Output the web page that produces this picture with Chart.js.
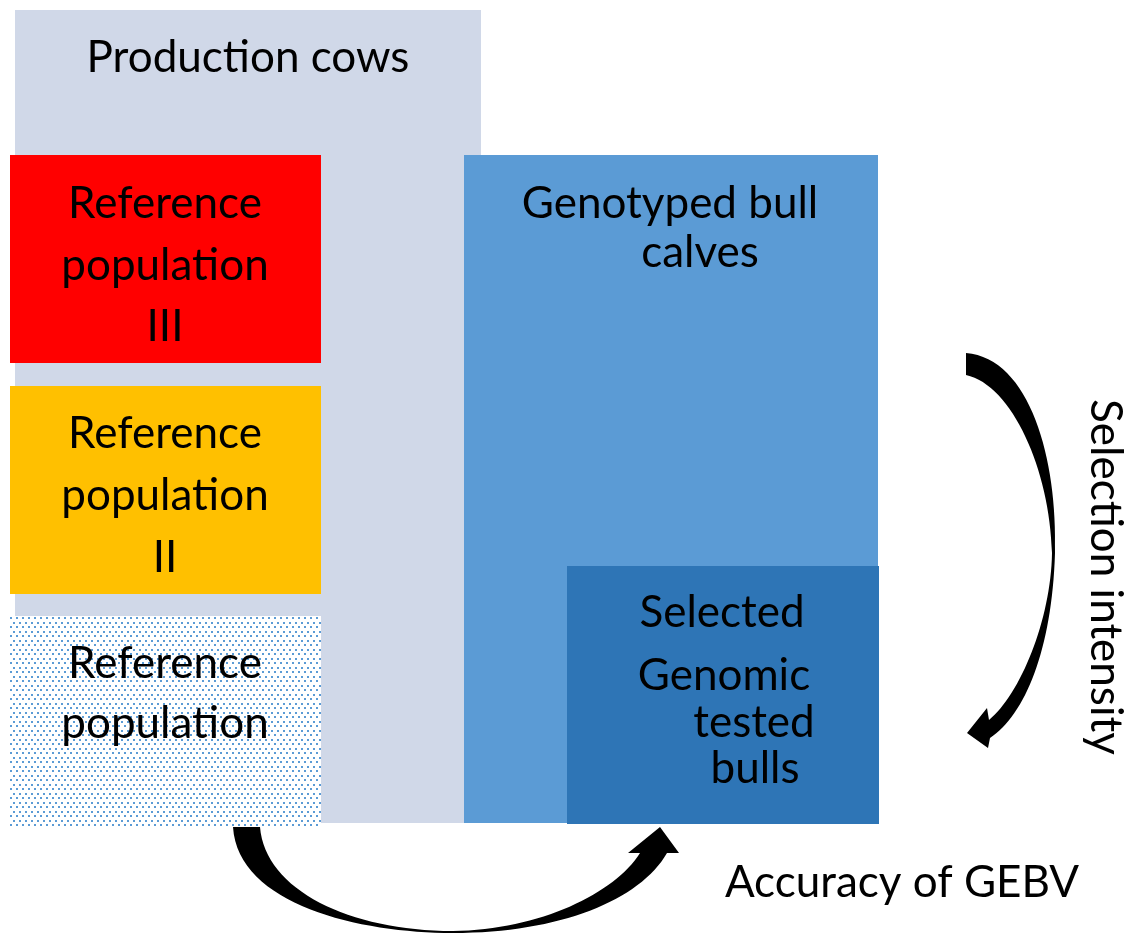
<!DOCTYPE html>
<html>
<head>
<meta charset="utf-8">
<script src="https://cdn.jsdelivr.net/npm/chart.js@4.4.1/dist/chart.umd.min.js"></script>
<style>
html, body { margin: 0; padding: 0; background: #ffffff; }
#wrap { width: 1126px; height: 934px; position: relative; }
</style>
</head>
<body>
<div id="wrap"><canvas id="diagram"></canvas></div>
<script>

// boxes of the diagram, in canvas units (x right, y down)
const boxNames = ['Production cows', 'Reference population III', 'Reference population II', 'Reference population', 'Genotyped bull calves', 'Selected Genomic tested bulls'];
const boxLeft = [15, 10, 10, 10, 464, 567];
const boxRight = [481, 321, 321, 321, 878, 879];
const boxTop = [10, 155, 386, 616, 155, 566];
const boxBottom = [823, 363, 594, 826, 823, 824];

// text lines
const textLines = ['Production cows', 'Reference', 'population', 'III', 'Reference', 'population', 'II', 'Reference', 'population', 'Genotyped bull', 'calves', 'Selected', 'Genomic', 'tested', 'bulls', 'Accuracy of GEBV'];
const textX = [248, 165, 165, 165, 165, 165, 165, 165, 165, 670, 700, 722, 724, 754, 755, 902];
const textY = [72, 218, 280, 341, 448, 510, 572, 678, 738, 218, 267, 627, 690, 737, 783, 897];

const sideLabel = 'Selection intensity';
const sideX = 1105;
const sideY = 577;

const FONT = '44px Lato, "Open Sans", sans-serif';


const makeDotPattern = () => {

    const tile = document.createElement('canvas');
    tile.width = 6;
    tile.height = 9;
    const c = tile.getContext('2d');
    c.fillStyle = '#ffffff';
    c.fillRect(0, 0, 6, 9);
    c.fillStyle = '#5b9bd5';
    c.fillRect(1, 1, 2, 2);
    c.fillRect(4, 5, 2, 2);

    return c.createPattern(tile, 'repeat');

};


const boxFills = ['#d0d8e8', '#ff0000', '#ffc000', makeDotPattern(), '#5b9bd5', '#2e75b6'];

const boxDatasets = boxNames.map((name, i) => ({
    label: name,
    data: [
        { x: boxLeft[i], y: boxTop[i] },
        { x: boxRight[i], y: boxTop[i] },
        { x: boxRight[i], y: boxBottom[i] },
        { x: boxLeft[i], y: boxBottom[i] },
        { x: boxLeft[i], y: boxTop[i] }
    ],
    showLine: true,
    fill: 'shape',
    backgroundColor: boxFills[i],
    borderColor: 'rgba(0,0,0,0)',
    borderWidth: 0,
    pointRadius: 0,
    tension: 0,
    order: boxNames.length - i
}));


// curved arrows, drawn as outlines
const arrowPaths = [
    [
        ['M', 233, 827],
        ['C', 238, 905, 360, 933, 453, 933],
        ['C', 560, 933, 640, 900, 667, 853],
        ['L', 679, 853],
        ['L', 660, 827],
        ['L', 628, 853],
        ['L', 640, 853],
        ['C', 615, 893, 540, 930, 453, 931],
        ['C', 350, 931, 265, 890, 260, 827]
    ],
    [
        ['M', 966, 353],
        ['C', 1030, 358, 1058, 460, 1055, 553],
        ['C', 1052, 650, 1025, 715, 990, 738],
        ['L', 988, 748],
        ['L', 967, 733],
        ['L', 987, 708],
        ['L', 989, 720],
        ['C', 1020, 695, 1051, 620, 1052, 553],
        ['C', 1050, 470, 1012, 385, 966, 375]
    ]
];


const overlayPlugin = {
    id: 'overlay',
    afterDatasetsDraw(chart) {

        const ctx = chart.ctx;
        const xs = chart.scales.x;
        const ys = chart.scales.y;
        const px = (v) => xs.getPixelForValue(v);
        const py = (v) => ys.getPixelForValue(v);

        ctx.save();

        ctx.fillStyle = '#000000';
        for (const path of arrowPaths) {
            ctx.beginPath();
            for (const seg of path) {
                if (seg[0] === 'M') ctx.moveTo(px(seg[1]), py(seg[2]));
                if (seg[0] === 'L') ctx.lineTo(px(seg[1]), py(seg[2]));
                if (seg[0] === 'C') ctx.bezierCurveTo(px(seg[1]), py(seg[2]), px(seg[3]), py(seg[4]), px(seg[5]), py(seg[6]));
            }
            ctx.closePath();
            ctx.fill();
        }

        ctx.font = FONT;
        ctx.textAlign = 'center';
        ctx.textBaseline = 'alphabetic';
        textLines.forEach((line, i) => {
            ctx.fillText(line, px(textX[i]), py(textY[i]));
        });

        ctx.translate(px(sideX), py(sideY));
        ctx.rotate(Math.PI / 2);
        ctx.textBaseline = 'middle';
        ctx.fillText(sideLabel, 0, 0);

        ctx.restore();

    }
};


new Chart(
    document.getElementById('diagram'), {
        type: 'scatter',
        data: { datasets: boxDatasets },
        options: {
            responsive: true,
            maintainAspectRatio: false,
            animation: false,
            events: [],
            layout: { padding: 0 },
            plugins: {
                legend: { display: false },
                tooltip: { enabled: false }
            },
            scales: {
                x: { type: 'linear', min: 0, max: 1126, display: false },
                y: { type: 'linear', min: 0, max: 934, reverse: true, display: false }
            }
        },
        plugins: [overlayPlugin]
    }
);

</script>
</body>
</html>
